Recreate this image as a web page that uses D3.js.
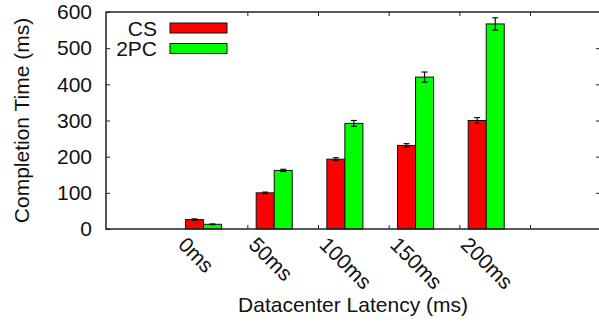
<!DOCTYPE html>
<html>
<head>
<meta charset="utf-8">
<script src="https://cdn.jsdelivr.net/npm/d3@7/dist/d3.min.js"></script>
<style>
  body { margin: 0; background: #fff; }
  text { font-family: "Liberation Sans", Arial, Helvetica, sans-serif; fill: #111; }
</style>
</head>
<body>
<div class="chart"></div>
<script>
// chart data
var categories = ["0ms", "50ms", "100ms", "150ms", "200ms"];
var seriesNames = ["CS", "2PC"];
var csValues = [26, 100, 193, 231, 300];
var csErrors = [2, 2, 4, 5, 8];
var pcValues = [13, 162, 292, 420, 567];
var pcErrors = [1, 3, 8, 14, 17];
var yTicks = [0, 100, 200, 300, 400, 500, 600];
var seriesColors = ["#ff0000", "#00ff00"];

var svgWidth = 599;
var svgHeight = 322;

// plot frame (right border sits just past the picture edge)
var frame = { left: 106, top: 12, right: 600, bottom: 229 };

var svg = d3.select(".chart")
  .append("svg")
  .attr("width", svgWidth)
  .attr("height", svgHeight);

// x in "cluster" units, cluster i centred on i
var xScale = d3.scaleLinear()
  .domain([-1.38, 5.61])
  .range([frame.left, frame.right]);

var yScale = d3.scaleLinear()
  .domain([0, 600])
  .range([frame.bottom, frame.top]);

var barW = 0.255; // width of one bar in cluster units

// build rows for the bars
var bars = [];
categories.forEach(function(c, i) {
  bars.push({ i: i, s: 0, v: csValues[i], e: csErrors[i] });
  bars.push({ i: i, s: 1, v: pcValues[i], e: pcErrors[i] });
});

// y axes (left and mirrored right), ticks point inward
var leftAxis = d3.axisLeft(yScale).tickValues(yTicks).tickSizeInner(-4).tickSizeOuter(0).tickPadding(14);
var rightAxis = d3.axisRight(yScale).tickValues(yTicks.slice(1, -1)).tickSizeInner(-4).tickSizeOuter(0).tickFormat("");

var gl = svg.append("g")
  .attr("transform", `translate(${frame.left},0)`)
  .call(leftAxis);
gl.select(".domain").remove();
gl.selectAll("text").attr("font-size", "21px").attr("fill", "#111")
  .style("font-family", "'Liberation Sans', Arial, sans-serif");
gl.selectAll("line").attr("stroke", "#222");

var gr = svg.append("g")
  .attr("transform", `translate(${frame.right},0)`)
  .call(rightAxis);
gr.select(".domain").remove();
gr.selectAll("line").attr("stroke", "#222");

// x ticks sit between the clusters
var xTicks = categories.map(function(c, i) { return i + 0.62; });
var bottomAxis = d3.axisBottom(xScale).tickValues(xTicks).tickSizeInner(-4).tickSizeOuter(0).tickFormat("");
var topAxis = d3.axisTop(xScale).tickValues(xTicks).tickSizeInner(-4).tickSizeOuter(0).tickFormat("");

var gb = svg.append("g").attr("transform", `translate(0,${frame.bottom})`).call(bottomAxis);
gb.select(".domain").remove();
gb.selectAll("line").attr("stroke", "#222");
var gt = svg.append("g").attr("transform", `translate(0,${frame.top})`).call(topAxis);
gt.select(".domain").remove();
gt.selectAll("line").attr("stroke", "#222");

// bars
svg.selectAll("rect.bar")
  .data(bars)
  .enter()
  .append("rect")
  .attr("class", "bar")
  .attr("x", d => xScale(d.i + (d.s - 1) * barW))
  .attr("y", d => yScale(d.v))
  .attr("width", d => xScale(barW) - xScale(0))
  .attr("height", d => yScale(0) - yScale(d.v))
  .attr("fill", d => seriesColors[d.s])
  .attr("stroke", "#111")
  .attr("stroke-width", 1);

// error bars
var errG = svg.selectAll("g.err")
  .data(bars)
  .enter()
  .append("g")
  .attr("class", "err")
  .attr("stroke", "#111")
  .attr("stroke-width", 1.2);

errG.append("line")
  .attr("x1", d => xScale(d.i + (d.s - 0.5) * barW))
  .attr("x2", d => xScale(d.i + (d.s - 0.5) * barW))
  .attr("y1", d => yScale(d.v - d.e))
  .attr("y2", d => yScale(d.v + d.e));
errG.append("line")
  .attr("x1", d => xScale(d.i + (d.s - 0.5) * barW) - 3)
  .attr("x2", d => xScale(d.i + (d.s - 0.5) * barW) + 3)
  .attr("y1", d => yScale(d.v + d.e))
  .attr("y2", d => yScale(d.v + d.e));
errG.append("line")
  .attr("x1", d => xScale(d.i + (d.s - 0.5) * barW) - 3)
  .attr("x2", d => xScale(d.i + (d.s - 0.5) * barW) + 3)
  .attr("y1", d => yScale(d.v - d.e))
  .attr("y2", d => yScale(d.v - d.e));

// border
svg.append("rect")
  .attr("x", frame.left)
  .attr("y", frame.top)
  .attr("width", frame.right - frame.left)
  .attr("height", frame.bottom - frame.top)
  .attr("fill", "none")
  .attr("stroke", "#222")
  .attr("stroke-width", 1.5);

// rotated category labels
svg.selectAll("text.cat")
  .data(categories)
  .enter()
  .append("text")
  .attr("class", "cat")
  .attr("transform", (d, i) => `translate(${xScale(i) - 26.6},246) rotate(45)`)
  .attr("text-anchor", "start")
  .attr("font-size", "21px")
  .text(d => d);

// legend
var legend = svg.selectAll("g.legend")
  .data(seriesNames)
  .enter()
  .append("g")
  .attr("class", "legend")
  .attr("transform", (d, i) => `translate(0,${23 + i * 20.5})`);

legend.append("text")
  .attr("x", 157)
  .attr("y", 12.5)
  .attr("text-anchor", "end")
  .attr("font-size", "21px")
  .text(d => d);

legend.append("rect")
  .attr("x", 170)
  .attr("y", 0)
  .attr("width", 57)
  .attr("height", 10)
  .attr("fill", (d, i) => seriesColors[i])
  .attr("stroke", "#111")
  .attr("stroke-width", 1);

// axis titles
svg.append("text")
  .attr("text-anchor", "middle")
  .attr("font-size", "21px")
  .attr("x", (frame.left + frame.right) / 2)
  .attr("y", 312)
  .text("Datacenter Latency (ms)");

svg.append("text")
  .attr("text-anchor", "middle")
  .attr("font-size", "21px")
  .attr("transform", `translate(29,${(frame.top + frame.bottom) / 2}) rotate(-90)`)
  .text("Completion Time (ms)");
</script>
</body>
</html>
